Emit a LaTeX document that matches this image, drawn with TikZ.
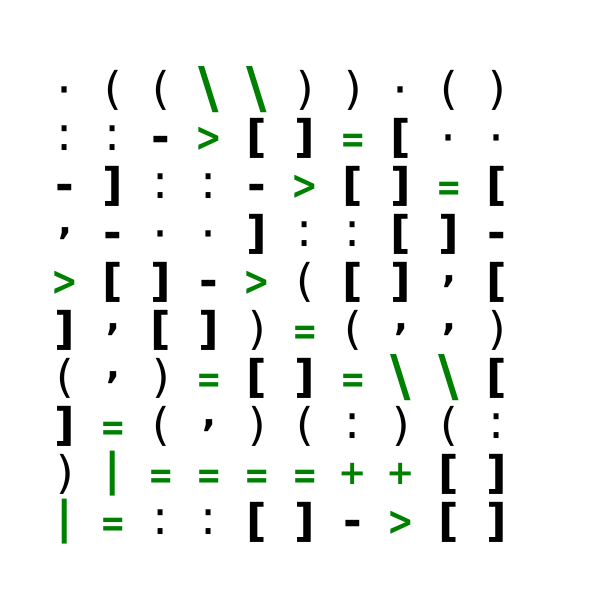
\documentclass[tikz,border=0pt]{standalone}
\usepackage{fontspec}
\setmainfont{DejaVu Sans}
\definecolor{symgreen}{RGB}{0,128,0}
\tikzset{
  sym/.style={inner sep=0pt, text=black, font=\fontsize{32}{36}\selectfont},
  heavy/.style={sym, font=\fontsize{32}{36}\selectfont\bfseries},
  grn/.style={heavy, text=symgreen},
  % one style per glyph
  gdot/.style={sym, font=\fontsize{36}{40}\selectfont, yshift=-0.17cm, node contents={·}},
  gcol/.style={sym, font=\fontsize{34}{38}\selectfont, node contents={:}},
  gcom/.style={heavy, font=\fontsize{26}{30}\selectfont\bfseries, node contents={,}},
  gdash/.style={heavy, yshift=-0.16cm, node contents={-}},
  glp/.style={sym, node contents={(}},
  grp/.style={sym, node contents={)}},
  glb/.style={heavy, node contents={[}},
  grb/.style={heavy, node contents={]}},
  gbs/.style={grn, font=\fontsize{40}{44}\selectfont\bfseries, node contents={\textbackslash}},
  gbar/.style={grn, node contents={|}},
  ggt/.style={grn, font=\fontsize{29}{32}\selectfont\bfseries, yshift=-0.04cm, node contents={\scalebox{0.78}[1]{>}}},
  geq/.style={grn, font=\fontsize{27}{30}\selectfont\bfseries, yshift=-0.14cm, node contents={\scalebox{0.8}[1]{=}}},
  gplus/.style={grn, font=\fontsize{24}{27}\selectfont\bfseries, node contents={+}}
}
\begin{document}
\begin{tikzpicture}
  \useasboundingbox (0,0) rectangle (15,15);
  % 10 x 10 grid of symbols, row by row
  \foreach \row [count=\j] in {
      {gdot,glp,glp,gbs,gbs,grp,grp,gdot,glp,grp},
      {gcol,gcol,gdash,ggt,glb,grb,geq,glb,gdot,gdot},
      {gdash,grb,gcol,gcol,gdash,ggt,glb,grb,geq,glb},
      {gcom,gdash,gdot,gdot,grb,gcol,gcol,glb,grb,gdash},
      {ggt,glb,grb,gdash,ggt,glp,glb,grb,gcom,glb},
      {grb,gcom,glb,grb,grp,geq,glp,gcom,gcom,grp},
      {glp,gcom,grp,geq,glb,grb,geq,gbs,gbs,glb},
      {grb,geq,glp,gcom,grp,glp,gcol,grp,glp,gcol},
      {grp,gbar,geq,geq,geq,geq,gplus,gplus,glb,grb},
      {gbar,geq,gcol,gcol,glb,grb,gdash,ggt,glb,grb}}
    \foreach \s [count=\i] in \row
      \node (s\j-\i) at ({1.625+1.2*(\i-1)},{12.75-1.2*(\j-1)}) [\s];
\end{tikzpicture}
\end{document}
